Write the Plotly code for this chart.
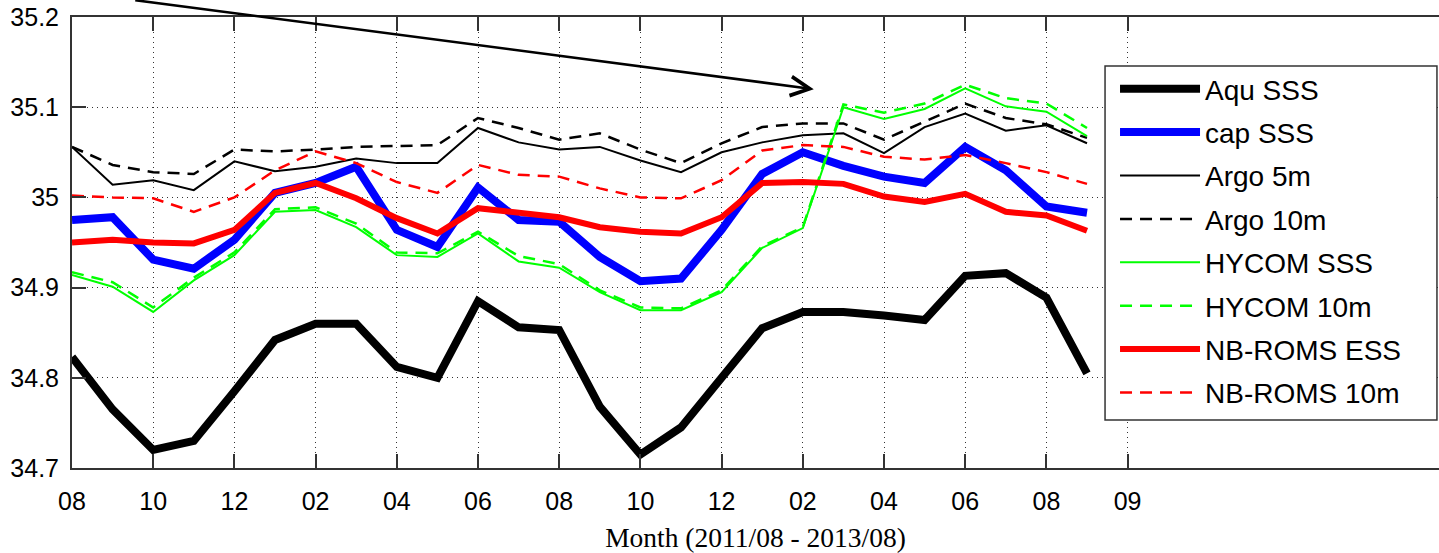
import plotly.graph_objects as go

# Monthly index, 2011/08 .. 2013/09
months = list(range(1, 27))

tick_vals = [1, 3, 5, 7, 9, 11, 13, 15, 17, 19, 21, 23, 25, 27]
tick_text = ["08", "10", "12", "02", "04", "06", "08", "10", "12", "02", "04", "06", "08", "09"]

y_tick_vals = [34.7, 34.8, 34.9, 35.0, 35.1, 35.2]
y_tick_text = ["34.7", "34.8", "34.9", "35", "35.1", "35.2"]

aqu_sss = [34.823, 34.765, 34.720, 34.730, 34.785, 34.842, 34.860, 34.860, 34.812, 34.800,
           34.885, 34.856, 34.853, 34.768, 34.715, 34.745, 34.800, 34.855, 34.873, 34.873,
           34.869, 34.864, 34.913, 34.916, 34.889, 34.805]
cap_sss = [34.975, 34.978, 34.931, 34.921, 34.953, 35.005, 35.016, 35.034, 34.964, 34.945,
           35.011, 34.975, 34.973, 34.934, 34.907, 34.910, 34.964, 35.026, 35.050, 35.035,
           35.023, 35.016, 35.056, 35.030, 34.990, 34.983]
argo_5m = [35.056, 35.014, 35.019, 35.008, 35.040, 35.029, 35.034, 35.043, 35.038, 35.038,
           35.077, 35.061, 35.053, 35.056, 35.041, 35.028, 35.050, 35.061, 35.069, 35.071,
           35.049, 35.078, 35.093, 35.074, 35.080, 35.060]
argo_10m = [35.056, 35.036, 35.028, 35.026, 35.053, 35.051, 35.053, 35.056, 35.057, 35.058,
            35.088, 35.077, 35.064, 35.071, 35.053, 35.038, 35.060, 35.078, 35.082, 35.082,
            35.064, 35.084, 35.104, 35.088, 35.081, 35.066]
hycom_sss = [34.914, 34.901, 34.873, 34.908, 34.936, 34.984, 34.986, 34.967, 34.936, 34.934,
             34.960, 34.929, 34.922, 34.895, 34.875, 34.875, 34.895, 34.944, 34.966, 35.100,
             35.087, 35.098, 35.121, 35.101, 35.095, 35.068]
hycom_10m = [34.917, 34.906, 34.878, 34.911, 34.939, 34.987, 34.989, 34.971, 34.939, 34.938,
             34.962, 34.935, 34.926, 34.897, 34.878, 34.877, 34.897, 34.946, 34.967, 35.103,
             35.094, 35.104, 35.125, 35.110, 35.104, 35.077]
roms_ess = [34.950, 34.953, 34.950, 34.949, 34.964, 35.005, 35.016, 34.999, 34.977, 34.960,
            34.988, 34.983, 34.978, 34.967, 34.962, 34.960, 34.978, 35.016, 35.017, 35.015,
            35.001, 34.995, 35.004, 34.984, 34.980, 34.963]
roms_10m = [35.002, 35.000, 34.999, 34.984, 35.000, 35.030, 35.051, 35.038, 35.017, 35.005,
            35.036, 35.025, 35.023, 35.010, 35.000, 34.999, 35.019, 35.052, 35.058, 35.056,
            35.045, 35.042, 35.047, 35.038, 35.028, 35.015]

DASH = "12px,8px"

series = [
    ("Aqu SSS", aqu_sss, "#000000", 8, "solid"),
    ("cap SSS", cap_sss, "#0000FF", 8, "solid"),
    ("Argo 5m", argo_5m, "#000000", 2, "solid"),
    ("Argo 10m", argo_10m, "#000000", 2.5, DASH),
    ("HYCOM SSS", hycom_sss, "#00FF00", 2, "solid"),
    ("HYCOM 10m", hycom_10m, "#00FF00", 2.5, DASH),
    ("NB-ROMS ESS", roms_ess, "#FF0000", 6, "solid"),
    ("NB-ROMS 10m", roms_10m, "#FF0000", 2.5, DASH),
]

fig = go.Figure()
for name, vals, color, width, dash in series:
    fig.add_trace(go.Scatter(
        x=months, y=vals, mode="lines", name=name,
        line=dict(color=color, width=width, dash=dash),
        legendgroup=name,
    ))

axis_font = dict(family="Liberation Sans, Arial, sans-serif", size=25, color="#000000")

# Legend frame, drawn as a white box behind the legend entries
fig.add_shape(
    type="rect", xref="paper", yref="paper",
    x0=0.7557, x1=0.9985, y0=0.1064, y1=0.8914,
    fillcolor="white", line=dict(color="#333333", width=1.5), layer="above",
)

fig.update_layout(
    width=1439, height=553,
    margin=dict(l=72, r=0, t=17, b=85),
    paper_bgcolor="white",
    plot_bgcolor="white",
    showlegend=True,
    legend=dict(
        x=0.7630, y=0.8958, xanchor="left", yanchor="top",
        bgcolor="rgba(0,0,0,0)", borderwidth=0,
        font=dict(family="Liberation Sans, Arial, sans-serif", size=28, color="#000000"),
        itemwidth=80,
        tracegroupgap=4,
        traceorder="grouped",
    ),
    xaxis=dict(
        range=[1, 34.67],
        tickvals=tick_vals, ticktext=tick_text,
        ticks="inside", ticklen=14, tickwidth=1.5, tickcolor="#333333",
        showline=True, linecolor="#333333", linewidth=2, mirror="ticks",
        showgrid=True, gridcolor="#333333", gridwidth=1, griddash="1px,4px",
        zeroline=False,
        tickfont=axis_font,
        ticklabelstandoff=10,
        title=dict(
            text="Month (2011/08 - 2013/08)",
            font=dict(family="Liberation Serif, Times New Roman, serif", size=27.5, color="#000000"),
            standoff=14,
        ),
    ),
    yaxis=dict(
        range=[34.7, 35.2],
        tickvals=y_tick_vals, ticktext=y_tick_text,
        ticks="inside", ticklen=14, tickwidth=1.5, tickcolor="#333333",
        showline=True, linecolor="#333333", linewidth=2, mirror=False,
        showgrid=True, gridcolor="#333333", gridwidth=1, griddash="1px,4px",
        zeroline=False,
        tickfont=axis_font,
        ticklabelstandoff=6,
    ),
)

# Pointer arrow toward the HYCOM jump
fig.add_annotation(
    x=19.27, y=35.120, xref="x", yref="y",
    ax=-680, ay=-94, axref="pixel", ayref="pixel",
    text="", showarrow=True,
    arrowhead=5, arrowsize=1.5, arrowwidth=2.5, arrowcolor="#000000",
)

fig.write_html("out.html")
